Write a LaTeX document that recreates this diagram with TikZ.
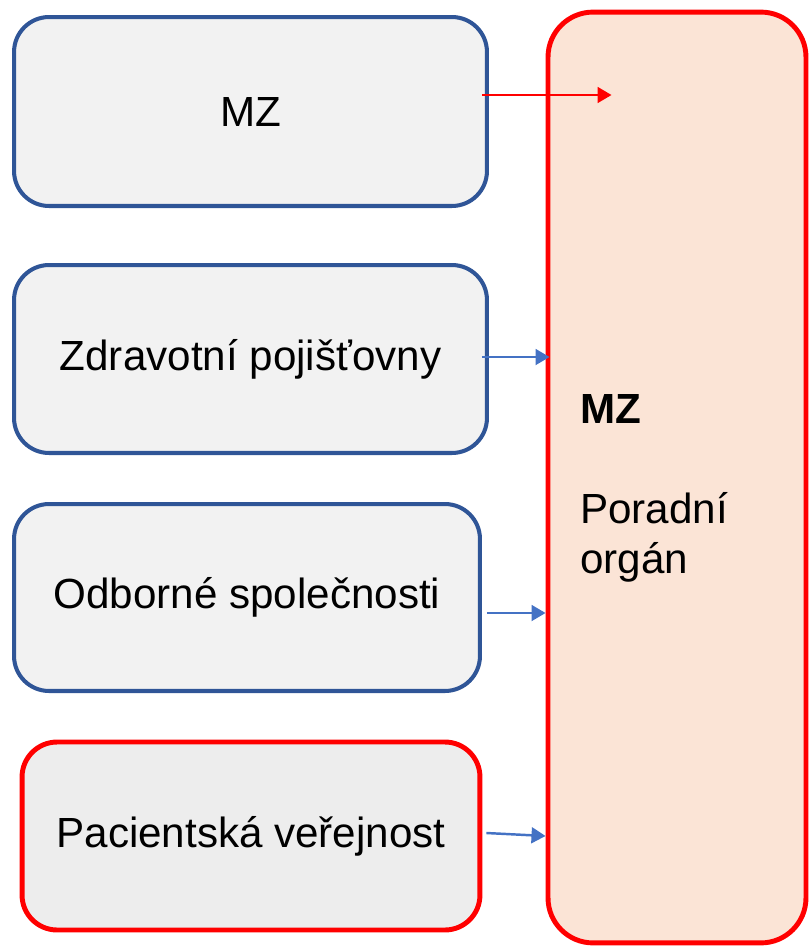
\documentclass[tikz,border=0pt]{standalone}
\usepackage{fontspec}
\setmainfont{Liberation Sans}
\usetikzlibrary{arrows.meta}
\definecolor{boxblue}{RGB}{47,85,151}
\definecolor{arrblue}{RGB}{68,114,196}
\definecolor{boxgray}{RGB}{242,242,242}
\definecolor{pvgray}{RGB}{237,237,237}
\definecolor{peach}{RGB}{251,228,214}
\definecolor{hardred}{RGB}{255,0,0}

\begin{document}
\begin{tikzpicture}[x=0.02cm,y=-0.02cm,
    box/.style={draw=boxblue,line width=2.3pt,fill=boxgray,rounded corners=0.7cm,
      font=\fontsize{24}{28}\selectfont},
    redbox/.style={box,draw=hardred,line width=2.8pt},
    bluearr/.style={-{Triangle[length=8pt,width=9pt]},arrblue,line width=1.4pt},
    redarr/.style={-{Triangle[length=8pt,width=9pt]},hardred,line width=1.4pt}]
    \useasboundingbox (0,0) rectangle (810,947);

    \node[redbox,fill=peach,rounded corners=0.9cm,minimum width=5.16cm,minimum height=18.62cm] (porad) at (677,477.5) {};
    \node[box,minimum width=9.46cm,minimum height=3.78cm] (mz) at (250.5,111.5) {MZ};
    \node[box,minimum width=9.46cm,minimum height=3.76cm] (zp) at (250.5,359) {Zdravotní pojišťovny};
    \node[box,minimum width=9.32cm,minimum height=3.74cm] (os) at (247,597.5) {Odborné společnosti};
    \node[redbox,fill=pvgray,minimum width=9.16cm,minimum height=3.76cm] (pv) at (251,836) {Pacientská veřejnost};
    \node[anchor=base west,inner sep=0pt,text width=4.5cm,align=left,
      font=\fontsize{24}{28.5}\selectfont] (label) at (580,423) {\textbf{MZ}\\[28.5pt]Poradní\\orgán};

    \draw[redarr] ([shift={(-7,-16.5)}]mz.east) coordinate (mza) -- ([xshift=1.32cm]mza -| porad.west);
    \draw[bluearr] ([shift={(-7,-2)}]zp.east) coordinate (zpa) -- ([xshift=0.08cm]zpa -| porad.west);
    \draw[bluearr] ([shift={(5,15.5)}]os.east) coordinate (osa) -- (osa -| porad.west);
    \draw[bluearr] ([shift={(4,-3)}]pv.east) -- (pv.east -| porad.west);

  \end{tikzpicture}
\end{document}
